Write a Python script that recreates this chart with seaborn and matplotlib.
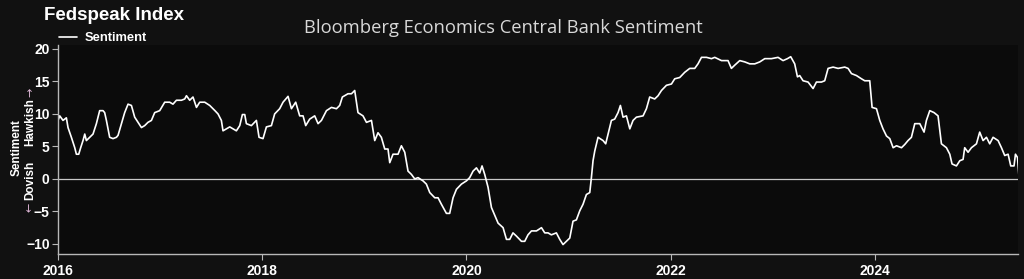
import numpy as np
import pandas as pd
import matplotlib
matplotlib.use("Agg")
import matplotlib.pyplot as plt
import matplotlib.dates as mdates
import seaborn as sns

# ---- data ----
# years elapsed since 2016-01-01
years_since_2016 = [
    0.000, 0.017, 0.049, 0.082, 0.098, 0.131, 0.164, 0.180, 0.203, 0.222, 0.245, 0.262, 0.278,
    0.310, 0.343, 0.376, 0.408, 0.441, 0.457, 0.474, 0.506, 0.539, 0.572, 0.588, 0.621, 0.653,
    0.686, 0.719, 0.751, 0.784, 0.817, 0.849, 0.881, 0.915, 0.947, 0.996, 1.045, 1.094, 1.126,
    1.160, 1.209, 1.241, 1.258, 1.290, 1.322, 1.356, 1.388, 1.437, 1.486, 1.537, 1.567, 1.600,
    1.616, 1.649, 1.682, 1.714, 1.747, 1.780, 1.806, 1.829, 1.845, 1.894, 1.943, 1.969, 2.008,
    2.041, 2.090, 2.122, 2.171, 2.204, 2.253, 2.286, 2.328, 2.367, 2.400, 2.426, 2.465, 2.514,
    2.547, 2.580, 2.629, 2.678, 2.727, 2.759, 2.785, 2.840, 2.874, 2.906, 2.938, 2.987, 3.021,
    3.070, 3.102, 3.134, 3.167, 3.200, 3.232, 3.249, 3.281, 3.330, 3.363, 3.396, 3.428, 3.461,
    3.494, 3.526, 3.575, 3.608, 3.641, 3.690, 3.722, 3.755, 3.804, 3.836, 3.869, 3.902, 3.951,
    4.000, 4.032, 4.065, 4.098, 4.130, 4.153, 4.179, 4.212, 4.245, 4.277, 4.310, 4.359, 4.392,
    4.424, 4.456, 4.490, 4.539, 4.571, 4.603, 4.637, 4.686, 4.735, 4.767, 4.799, 4.832, 4.881,
    4.914, 4.946, 4.979, 5.012, 5.044, 5.077, 5.110, 5.142, 5.175, 5.208, 5.224, 5.240, 5.257,
    5.289, 5.338, 5.364, 5.387, 5.420, 5.452, 5.485, 5.508, 5.534, 5.567, 5.600, 5.632, 5.665,
    5.730, 5.763, 5.795, 5.844, 5.877, 5.910, 5.959, 6.008, 6.040, 6.089, 6.138, 6.187, 6.236,
    6.268, 6.302, 6.351, 6.400, 6.432, 6.498, 6.562, 6.595, 6.628, 6.677, 6.726, 6.775, 6.824,
    6.873, 6.922, 6.987, 7.052, 7.101, 7.144, 7.176, 7.215, 7.242, 7.264, 7.297, 7.346, 7.395,
    7.428, 7.477, 7.509, 7.542, 7.591, 7.640, 7.705, 7.738, 7.771, 7.820, 7.869, 7.901, 7.950,
    7.973, 8.016, 8.048, 8.080, 8.114, 8.146, 8.179, 8.212, 8.261, 8.293, 8.325, 8.358, 8.391,
    8.440, 8.482, 8.505, 8.538, 8.580, 8.619, 8.652, 8.701, 8.734, 8.756, 8.799, 8.832, 8.864,
    8.880, 8.913, 8.946, 8.995, 9.027, 9.060, 9.093, 9.125, 9.158, 9.207, 9.240, 9.272, 9.305,
    9.331, 9.363, 9.377, 9.397, 9.410,
]
sentiment = [
    9.0, 9.7, 9.0, 9.4, 7.9, 6.4, 4.8, 3.8, 3.8, 4.8, 5.9, 6.9, 5.9,
    6.4, 6.9, 8.5, 10.5, 10.5, 10.2, 9.0, 6.4, 6.2, 6.4, 6.7, 8.5, 10.2,
    11.5, 11.3, 9.5, 8.7, 7.9, 8.2, 8.7, 9.0, 10.2, 10.5, 11.8, 11.8, 11.5,
    12.1, 12.1, 12.3, 12.8, 12.1, 12.6, 11.0, 11.8, 11.8, 11.3, 10.5, 10.0, 9.0,
    7.4, 7.7, 8.0, 7.7, 7.4, 8.2, 9.9, 9.9, 8.5, 8.2, 9.0, 6.4, 6.2,
    8.0, 8.2, 10.0, 10.8, 11.8, 12.7, 10.8, 11.8, 9.7, 9.7, 8.2, 9.2, 9.7,
    8.5, 9.0, 10.5, 11.0, 10.8, 11.3, 12.6, 13.1, 13.1, 13.6, 10.2, 9.7, 8.7,
    9.0, 5.9, 7.1, 6.4, 4.6, 4.6, 2.5, 3.8, 3.8, 5.1, 4.1, 1.2, 0.7,
    0.0, 0.2, -0.3, -0.8, -2.1, -2.9, -2.9, -3.9, -5.3, -5.3, -2.9, -1.6, -0.8,
    -0.3, 0.2, 1.2, 1.7, 0.9, 2.0, 0.7, -1.3, -4.4, -5.6, -6.8, -7.5, -9.3,
    -9.3, -8.3, -8.8, -9.6, -9.6, -8.6, -8.0, -8.0, -7.5, -8.3, -8.3, -8.6, -8.3,
    -9.3, -10.1, -9.6, -9.1, -6.5, -6.3, -4.9, -3.9, -2.4, -2.1, 0.2, 2.8, 4.3,
    6.4, 5.9, 5.4, 6.9, 9.0, 9.2, 10.2, 11.3, 9.5, 9.7, 7.7, 9.0, 9.5,
    9.7, 10.8, 12.6, 12.3, 12.8, 13.6, 14.4, 14.6, 15.4, 15.6, 16.4, 17.0, 17.0,
    17.7, 18.7, 18.7, 18.5, 18.7, 18.2, 18.2, 17.0, 17.5, 18.2, 18.0, 17.7, 17.7,
    18.0, 18.5, 18.5, 18.7, 18.2, 18.5, 18.8, 17.7, 15.7, 15.9, 15.1, 14.9, 13.9,
    14.9, 14.9, 15.1, 17.0, 17.2, 17.0, 17.2, 17.0, 16.2, 15.9, 15.4, 15.1, 15.1,
    11.0, 10.8, 9.0, 7.7, 6.6, 6.2, 4.8, 5.1, 4.8, 5.3, 5.9, 6.4, 8.5,
    8.5, 7.2, 9.0, 10.5, 10.2, 9.7, 5.4, 4.8, 3.8, 2.3, 2.0, 2.8, 3.0,
    4.8, 4.1, 4.8, 5.4, 7.2, 5.9, 6.4, 5.4, 6.4, 5.9, 4.8, 3.6, 3.8,
    2.0, 2.0, 3.8, 3.3, 0.7,
]
x_tick_years = [2016, 2018, 2020, 2022, 2024]
y_ticks = [-10, -5, 0, 5, 10, 15, 20]

start = pd.Timestamp("2016-01-01")
dates = start + pd.to_timedelta(np.array(years_since_2016) * 365.25, unit="D")
df = pd.DataFrame({"date": dates, "Sentiment": sentiment})

# ---- style ----
sns.set_theme(style="dark")
plt.rcParams["font.family"] = ["Liberation Sans", "DejaVu Sans"]

FIG_BG = "#111111"
AX_BG = "#0b0b0b"
AXIS_C = "#b8b8b8"

W, H = 1024, 279
fig = plt.figure(figsize=(W / 100, H / 100), dpi=100, facecolor=FIG_BG)
ax = fig.add_axes([58 / W, 1 - 254 / H, 960 / W, 209 / H])
ax.set_facecolor(AX_BG)

sns.lineplot(data=df, x="date", y="Sentiment", ax=ax, color="white",
             linewidth=1.2, label="Sentiment")

ax.axhline(0, color="#c8c8c8", linewidth=0.9, zorder=1)

ax.set_xlim(start, start + pd.to_timedelta(9.402 * 365.25, unit="D"))
ax.set_ylim(-11.55, 20.6)
ax.set_yticks(y_ticks)
ax.set_xticks([pd.Timestamp(f"{y}-01-01") for y in x_tick_years])
ax.xaxis.set_major_formatter(mdates.DateFormatter("%Y"))
ax.set_xlabel("")
ax.set_ylabel("")
ax.grid(False)

for s in ["top", "right"]:
    ax.spines[s].set_visible(False)
for s in ["left", "bottom"]:
    ax.spines[s].set_visible(True)
    ax.spines[s].set_color(AXIS_C)
    ax.spines[s].set_linewidth(1.0)

ax.tick_params(axis="both", colors=AXIS_C, length=4, width=0.8,
               labelcolor="white", labelsize=10, direction="out",
               bottom=True, left=True)
ax.tick_params(axis="x", pad=3)
ax.tick_params(axis="y", pad=2)
for lab in ax.get_xticklabels() + ax.get_yticklabels():
    lab.set_fontweight("bold")

# legend
leg = ax.legend(loc="lower left", bbox_to_anchor=(0.0, 1.0), frameon=False,
                handlelength=1.4, handletextpad=0.6, borderaxespad=0.0,
                borderpad=0.05, prop={"weight": "bold", "size": 9.3})
for t in leg.get_texts():
    t.set_color("white")

# titles
fig.text(44 / W, 1 - 16 / H, "Fedspeak Index", color="white", fontsize=13.5,
         fontweight="heavy", ha="left", va="center")
fig.text(503 / W, 1 - 28 / H, "Bloomberg Economics Central Bank Sentiment",
         color="#d8d8d8", fontsize=13.2, family=["Open Sans", "DejaVu Sans"],
         ha="center", va="center")

# y-axis label pieces
fig.text(17 / W, 1 - 148 / H, "Sentiment", rotation=90, color="white",
         fontsize=8.5, fontweight="bold", ha="center", va="center")
fig.text(30 / W, 1 - 122 / H, "Hawkish", rotation=90, color="white",
         fontsize=8.5, fontweight="bold", ha="center", va="center")
fig.text(30 / W, 1 - 92 / H, "\u2192", rotation=90, color="#e0b8d8",
         fontsize=8, ha="center", va="center", family=["DejaVu Sans"])
fig.text(30 / W, 1 - 180 / H, "Dovish", rotation=90, color="white",
         fontsize=8.5, fontweight="bold", ha="center", va="center")
fig.text(30 / W, 1 - 207 / H, "\u2190", rotation=90, color="#e0b8d8",
         fontsize=8, ha="center", va="center", family=["DejaVu Sans"])

fig.savefig("out.png", dpi=100, facecolor=FIG_BG)
